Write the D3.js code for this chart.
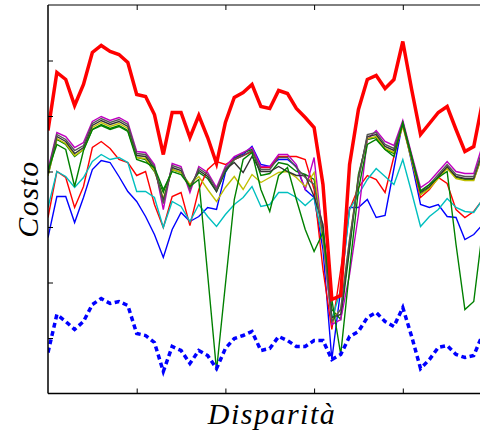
<!DOCTYPE html>
<html>
<head>
<meta charset="utf-8">
<script src="https://cdn.jsdelivr.net/npm/d3@7"></script>
<style>
  html, body { margin: 0; padding: 0; background: #fff; }
  #chart { width: 480px; height: 432px; }
  .axis-label { font-family: "Liberation Serif", "DejaVu Serif", serif; font-style: italic; font-size: 30px; letter-spacing: 1.5px; }
</style>
</head>
<body>
<div id="chart"></div>
<script>
// disparity index 0..49, costs
const disparity = d3.range(0, 50);
const xTicks = [10, 20, 30, 40];
const yTicks = [55.5, 111, 166.5, 222, 277.5, 333];

const costBest = [263, 321, 314, 288, 309, 341, 348, 342, 339, 331, 299, 297, 279, 239, 281, 281, 256, 278, 256, 230,
  271, 296, 301, 309, 287, 285, 303, 300, 285, 276, 266, 209, 94, 98, 229, 284, 314, 318, 305, 314,
  352, 304, 259, 270, 281, 287, 264, 242, 247, 292];
const costDotted = [41, 79, 72, 64, 72, 89, 95, 90, 92, 88, 60, 58, 51, 22, 47, 43, 30, 43, 38, 25,
  45, 55, 58, 62, 43, 45, 57, 53, 47, 47, 53, 53, 34, 39, 57, 62, 76, 81, 72, 67,
  86, 57, 25, 34, 46, 48, 39, 36, 38, 59];
const costBlue = [156, 197, 197, 171, 196, 224, 233, 231, 217, 202, 192, 177, 159, 136, 164, 181, 172, 177, 186, 184,
  221, 236, 239, 247, 229, 227, 234, 234, 227, 204, 196, 144, 34, 104, 186, 186, 194, 176, 178, 225,
  272, 231, 189, 186, 189, 177, 176, 154, 159, 169];
const costGreen = [218, 254, 249, 237, 244, 264, 269, 265, 268, 263, 236, 234, 222, 201, 224, 221, 208, 221, 215, 202,
  222, 234, 241, 244, 218, 220, 231, 229, 222, 219, 214, 164, 84, 74, 144, 219, 254, 256, 244, 240,
  269, 234, 199, 206, 216, 226, 216, 214, 214, 239];
const costRed = [176, 222, 216, 186, 207, 246, 252, 245, 234, 231, 218, 222, 189, 166, 197, 201, 168, 204, 224, 232,
  229, 234, 238, 242, 226, 226, 237, 237, 237, 234, 204, 124, 64, 124, 184, 206, 218, 214, 201, 237,
  269, 234, 196, 204, 216, 210, 184, 176, 182, 194];
const costCyan = [186, 222, 217, 206, 216, 232, 239, 234, 236, 231, 202, 202, 196, 166, 192, 187, 172, 189, 177, 167,
  179, 189, 196, 207, 187, 189, 201, 201, 196, 188, 196, 154, 74, 104, 184, 199, 214, 225, 217, 209,
  234, 201, 167, 177, 184, 195, 186, 182, 181, 194];
const costMagenta = [224, 261, 257, 246, 251, 272, 277, 273, 276, 271, 242, 241, 229, 184, 230, 227, 201, 227, 221, 206,
  227, 237, 241, 246, 227, 227, 239, 239, 229, 204, 236, 154, 69, 74, 119, 179, 254, 263, 252, 248,
  273, 239, 206, 212, 222, 232, 222, 220, 220, 249];
const costYellow = [218, 255, 250, 238, 244, 266, 271, 267, 270, 265, 236, 235, 223, 195, 224, 221, 209, 217, 204, 192,
  206, 217, 204, 219, 211, 216, 221, 222, 216, 207, 221, 154, 74, 84, 154, 216, 255, 257, 245, 241,
  267, 233, 199, 205, 215, 225, 215, 213, 213, 240];
const costBlack = [220, 257, 252, 240, 246, 268, 273, 269, 272, 267, 238, 237, 225, 193, 226, 223, 206, 223, 217, 202,
  224, 231, 221, 237, 222, 222, 227, 222, 218, 218, 197, 169, 76, 79, 149, 216, 257, 259, 247, 243,
  269, 235, 201, 207, 217, 227, 217, 215, 215, 242];
const costGray = [222, 259, 254, 243, 248, 270, 275, 271, 274, 269, 240, 239, 227, 190, 228, 225, 204, 225, 219, 204,
  225, 234, 238, 243, 224, 224, 236, 236, 226, 216, 209, 159, 72, 84, 154, 214, 259, 261, 249, 245,
  271, 237, 203, 209, 219, 229, 219, 217, 217, 244];
const costGreen2 = [223, 249, 244, 207, 243, 264, 268, 264, 267, 262, 234, 231, 226, 204, 222, 219, 207, 214, 119, 23,
  109, 194, 234, 241, 204, 182, 218, 226, 194, 164, 142, 161, 94, 39, 124, 204, 249, 254, 244, 237,
  271, 237, 202, 209, 216, 222, 149, 84, 92, 164];

const thinSeries = [
  { values: costBlue, color: "#0000ff" },
  { values: costGreen, color: "#008000" },
  { values: costRed, color: "#ff0000" },
  { values: costCyan, color: "#00bfbf" },
  { values: costMagenta, color: "#bf00bf" },
  { values: costYellow, color: "#bfbf00" },
  { values: costBlack, color: "#333333" },
  { values: costGray, color: "#555555" },
  { values: costGreen2, color: "#008000" }
];

const width = 480, height = 432;
const margin = { top: 5, left: 48 };
const plotW = 443.5, plotH = 388.5;

const svg = d3.select("#chart").append("svg")
  .attr("width", width)
  .attr("height", height);

const x = d3.scaleLinear().domain([0, 50]).range([margin.left, margin.left + plotW]);
const y = d3.scaleLinear().domain([0, 388.5]).range([margin.top + plotH, margin.top]);

svg.append("clipPath").attr("id", "plot-clip")
  .append("rect")
  .attr("x", margin.left).attr("y", margin.top)
  .attr("width", plotW).attr("height", plotH);

const line = d3.line()
  .x((d, i) => x(disparity[i]))
  .y(d => y(d));

const plot = svg.append("g").attr("clip-path", "url(#plot-clip)");

plot.selectAll(".thin")
  .data(thinSeries)
  .join("path")
  .attr("class", "thin")
  .attr("fill", "none")
  .attr("stroke", d => d.color)
  .attr("stroke-width", 1.4)
  .attr("d", d => line(d.values));

plot.append("path")
  .attr("fill", "none")
  .attr("stroke", "#ff0000")
  .attr("stroke-width", 3.5)
  .attr("d", line(costBest));

plot.append("path")
  .attr("fill", "none")
  .attr("stroke", "#0000ff")
  .attr("stroke-width", 3.5)
  .attr("stroke-dasharray", "5,3.5")
  .attr("d", line(costDotted));

// axes: ticks inward, no labels
const tickLen = 5;
svg.append("g")
  .attr("transform", `translate(0,${margin.top + plotH})`)
  .call(d3.axisBottom(x).tickValues(xTicks).tickSize(-tickLen).tickFormat(""))
  .call(g => g.select(".domain").remove());
svg.append("g")
  .attr("transform", `translate(0,${margin.top})`)
  .call(d3.axisTop(x).tickValues(xTicks).tickSize(-tickLen).tickFormat(""))
  .call(g => g.select(".domain").remove());
svg.append("g")
  .attr("transform", `translate(${margin.left},0)`)
  .call(d3.axisLeft(y).tickValues(yTicks).tickSize(-tickLen).tickFormat(""))
  .call(g => g.select(".domain").remove());
svg.selectAll(".tick line").attr("stroke", "#000").attr("stroke-width", 1);

// spines
svg.append("line")
  .attr("x1", margin.left).attr("x2", margin.left)
  .attr("y1", margin.top).attr("y2", margin.top + plotH)
  .attr("stroke", "#000").attr("stroke-width", 1.5);
svg.append("line")
  .attr("x1", margin.left).attr("x2", width)
  .attr("y1", margin.top + plotH).attr("y2", margin.top + plotH)
  .attr("stroke", "#000").attr("stroke-width", 1.5);
svg.append("line")
  .attr("x1", margin.left).attr("x2", width)
  .attr("y1", margin.top).attr("y2", margin.top)
  .attr("stroke", "#000").attr("stroke-width", 1);

svg.append("text")
  .attr("class", "axis-label")
  .attr("x", 272)
  .attr("y", 424)
  .attr("text-anchor", "middle")
  .text("Disparità");

svg.append("text")
  .attr("class", "axis-label")
  .attr("transform", "rotate(-90)")
  .attr("x", -199)
  .attr("y", 38)
  .attr("text-anchor", "middle")
  .text("Costo");
</script>
</body>
</html>
